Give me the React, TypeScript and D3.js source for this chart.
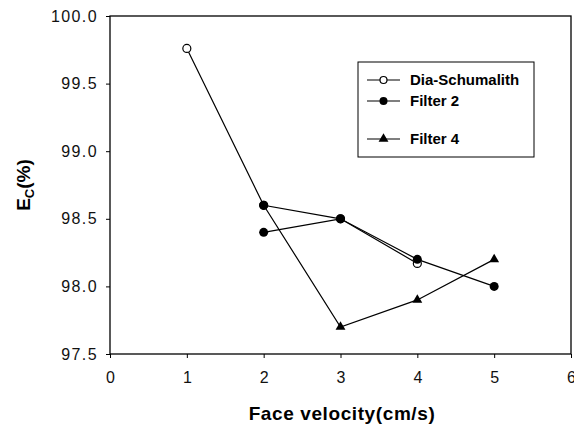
import React, { useEffect, useRef } from 'react';
import * as d3 from 'd3';

const xTicks = [0, 1, 2, 3, 4, 5, 6];
const yTicks = [97.5, 98.0, 98.5, 99.0, 99.5, 100.0];

const diaX = [1, 2, 3, 4];
const diaY = [99.76, 98.6, 98.5, 98.17];
const filter2X = [2, 3, 4, 5];
const filter2Y = [98.4, 98.5, 98.2, 98.0];
const filter4X = [2, 3, 4, 5];
const filter4Y = [98.6, 97.7, 97.9, 98.2];

const seriesNames = ['Dia-Schumalith', 'Filter 2', 'Filter 4'];

export default function App() {
  const svgRef = useRef<SVGSVGElement>(null);

  const width = 574;
  const height = 425;
  const margin = { left: 110, top: 16, right: 3, bottom: 71 };
  const innerHeight = height - margin.top - margin.bottom;

  useEffect(() => {
    const svg = d3.select(svgRef.current);
    svg.selectAll('*').remove();

    const x = d3.scaleLinear().domain([0, 6]).range([0, 461]);
    const y = d3.scaleLinear().domain([97.5, 100]).range([innerHeight, 0]);

    const g = svg
      .append('g')
      .attr('transform', `translate(${margin.left},${margin.top})`);

    // frame
    g.append('rect')
      .attr('x', 0)
      .attr('y', 0)
      .attr('width', x(6))
      .attr('height', innerHeight)
      .attr('fill', 'none')
      .attr('stroke', '#000')
      .attr('stroke-width', 1.3);

    const font = 'Liberation Sans, Arial, sans-serif';

    const yAxis = d3
      .axisLeft(y)
      .tickValues(yTicks)
      .tickFormat(d3.format('.1f'))
      .tickSize(4)
      .tickPadding(8);
    const yG = g.append('g').call(yAxis);
    yG.select('.domain').remove();
    yG.selectAll('text')
      .attr('font-size', 16)
      .attr('letter-spacing', 1.4)
      .attr('font-family', font)
      .attr('fill', '#111');

    const xAxis = d3
      .axisBottom(x)
      .tickValues(xTicks)
      .tickFormat(d3.format('d'))
      .tickSize(4)
      .tickPadding(14);
    const xG = g.append('g').attr('transform', `translate(0,${innerHeight})`).call(xAxis);
    xG.select('.domain').remove();
    xG.selectAll('text').attr('font-size', 16).attr('font-family', font).attr('fill', '#111');

    const line = d3
      .line<[number, number]>()
      .x((d) => x(d[0]))
      .y((d) => y(d[1]));

    const dia = diaX.map((v, i) => [v, diaY[i]] as [number, number]);
    const f2 = filter2X.map((v, i) => [v, filter2Y[i]] as [number, number]);
    const f4 = filter4X.map((v, i) => [v, filter4Y[i]] as [number, number]);

    [dia, f2, f4].forEach((s) => {
      g.append('path')
        .datum(s)
        .attr('d', line)
        .attr('fill', 'none')
        .attr('stroke', '#000')
        .attr('stroke-width', 1.2);
    });

    const tri = d3.symbol().type(d3.symbolTriangle).size(42);

    g.selectAll('.dia')
      .data(dia)
      .enter()
      .append('circle')
      .attr('cx', (d) => x(d[0]))
      .attr('cy', (d) => y(d[1]))
      .attr('r', 4)
      .attr('fill', '#fff')
      .attr('stroke', '#000')
      .attr('stroke-width', 1.2);

    // first Filter 4 point sits under the filled circle at x = 2
    g.selectAll('.f4')
      .data(f4.slice(1))
      .enter()
      .append('path')
      .attr('d', tri)
      .attr('transform', (d) => `translate(${x(d[0])},${y(d[1])})`)
      .attr('fill', '#000');

    g.selectAll('.f2')
      .data(f2.concat([f4[0]]))
      .enter()
      .append('circle')
      .attr('cx', (d) => x(d[0]))
      .attr('cy', (d) => y(d[1]))
      .attr('r', 4.5)
      .attr('fill', '#000');

    // legend
    const lg = svg.append('g').attr('transform', 'translate(358,62)');
    lg.append('rect')
      .attr('width', 176)
      .attr('height', 95)
      .attr('fill', '#fff')
      .attr('stroke', '#000')
      .attr('stroke-width', 1);
    const rows = [18, 39, 77];
    seriesNames.forEach((name, i) => {
      const ry = rows[i];
      lg.append('line')
        .attr('x1', 9)
        .attr('x2', 42)
        .attr('y1', ry)
        .attr('y2', ry)
        .attr('stroke', '#000')
        .attr('stroke-width', 1.2);
      if (i === 0) {
        lg.append('circle').attr('cx', 25.5).attr('cy', ry).attr('r', 3.5)
          .attr('fill', '#fff').attr('stroke', '#000').attr('stroke-width', 1.2);
      } else if (i === 1) {
        lg.append('circle').attr('cx', 25.5).attr('cy', ry).attr('r', 4).attr('fill', '#000');
      } else {
        lg.append('path').attr('d', tri).attr('transform', `translate(25.5,${ry})`).attr('fill', '#000');
      }
      lg.append('text')
        .attr('x', 52)
        .attr('y', ry)
        .attr('dy', '0.35em')
        .attr('font-family', font)
        .attr('font-size', 15)
        .attr('font-weight', 'bold')
        .text(name);
    });

    // axis titles
    svg.append('text')
      .attr('x', 342)
      .attr('y', 420)
      .attr('text-anchor', 'middle')
      .attr('font-family', font)
      .attr('font-size', 19)
      .attr('letter-spacing', 0.6)
      .attr('font-weight', 'bold')
      .text('Face velocity(cm/s)');

    const yt = svg.append('text')
      .attr('transform', 'translate(30,185) rotate(-90)')
      .attr('text-anchor', 'middle')
      .attr('font-family', font)
      .attr('font-size', 19)
      .attr('font-weight', 'bold');
    yt.append('tspan').text('E');
    yt.append('tspan').attr('font-size', 13).attr('dy', 4).text('C');
    yt.append('tspan').attr('dy', -4).text('(%)');
  }, []);

  return (
    <div>
      <svg
        ref={svgRef}
        width={width}
        height={height}
        style={{ position: 'absolute', left: 0, top: 0, background: '#fff' }}
      />
    </div>
  );
}
